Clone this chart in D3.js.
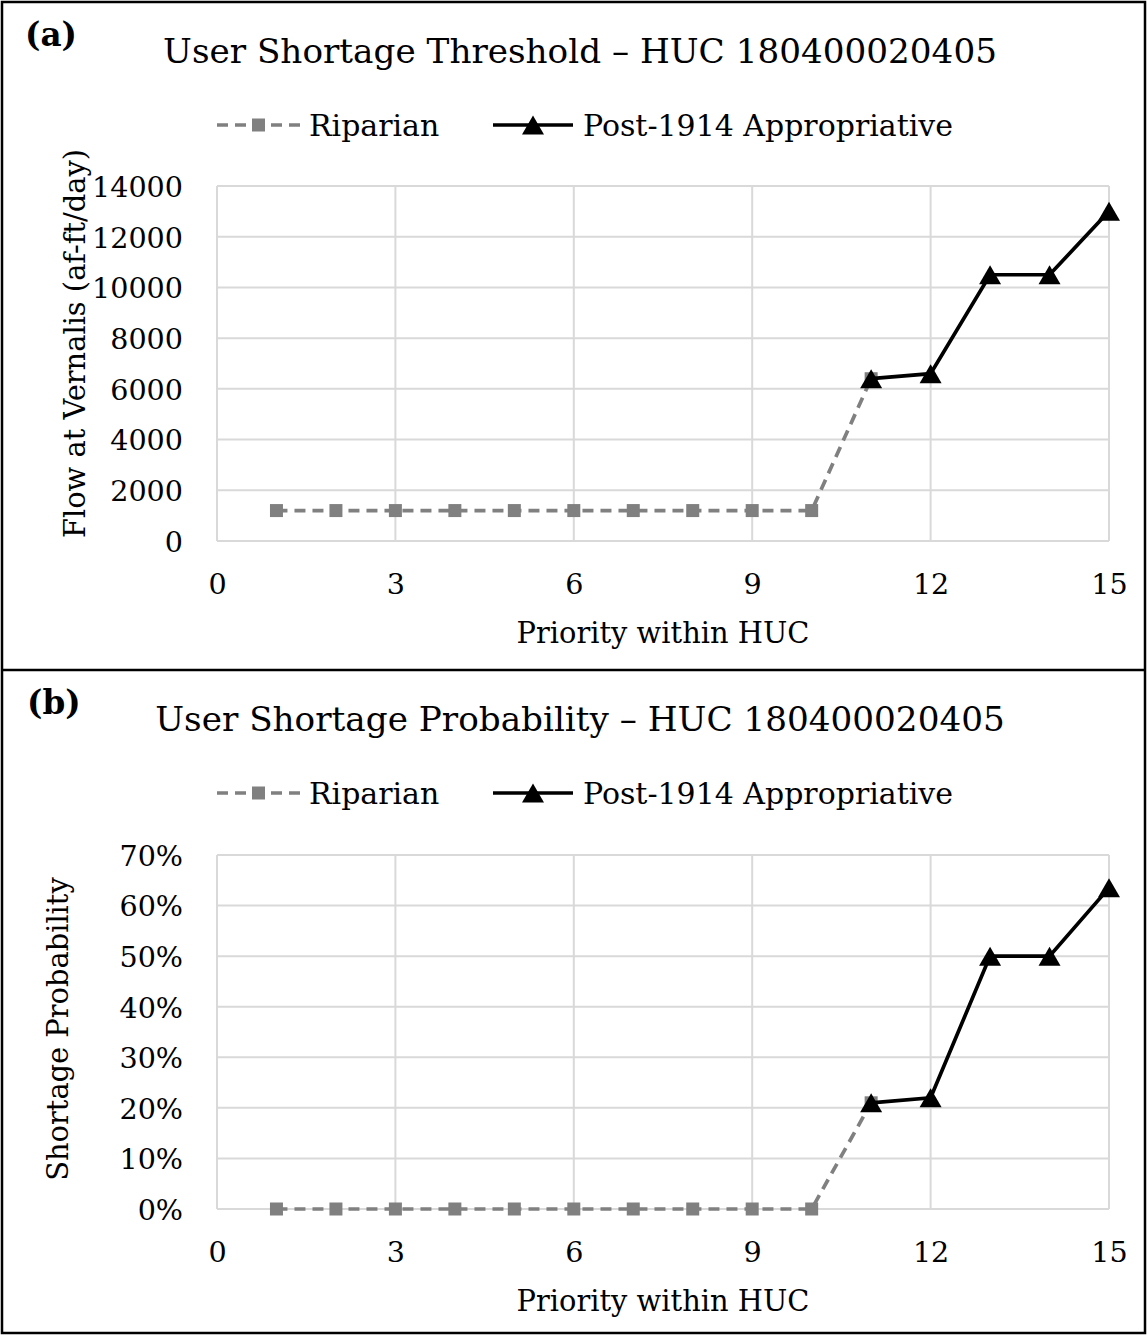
<!DOCTYPE html>
<html><head><meta charset="utf-8">
<script src="https://cdn.jsdelivr.net/npm/d3@7"></script>
<style>
body{margin:0;background:#fff}
text{font-family:"DejaVu Serif",serif;fill:#000}
</style>
</head><body>
<svg id="c" width="1147" height="1335"></svg>
<script>
// ---- data ----
const riparianPriority = [1,2,3,4,5,6,7,8,9,10,11];
const riparianFlow = [1200,1200,1200,1200,1200,1200,1200,1200,1200,1200,6400];
const postPriority = [11,12,13,14,15];
const postFlow = [6400,6600,10500,10500,13000];
const riparianProb = [0,0,0,0,0,0,0,0,0,0,0.21];
const postProb = [0.21,0.22,0.50,0.50,0.635];
const xTicks = [0,3,6,9,12,15];
const flowTicks = [0,2000,4000,6000,8000,10000,12000,14000];
const probTicks = [0,0.1,0.2,0.3,0.4,0.5,0.6,0.7];
const seriesNames = ["Riparian","Post-1914 Appropriative"];
const panelLabels = ["(a)","(b)"];
const titles = ["User Shortage Threshold \u2013 HUC 180400020405","User Shortage Probability \u2013 HUC 180400020405"];
const yTitles = ["Flow at Vernalis (af-ft/day)","Shortage Probability"];
const xTitle = "Priority within HUC";

// ---- drawing ----
const svg = d3.select("#c");
const W = 1147, H = 1335;
const GRID = "#d9d9d9", GRAY = "#808080";
const LW = 3.7;

function sizeFor(str, target, weight){
  const t = svg.append("text").attr("font-size",100).attr("font-weight",weight||"normal").text(str);
  const w = t.node().getComputedTextLength(); t.remove();
  return 100*target/w;
}
const fsTitle = sizeFor(titles[0], 834);
const fsLabel = sizeFor(panelLabels[0], 52, "bold");
const fsLegend = sizeFor(seriesNames[1], 370);
const fsTick = sizeFor("14000", 91);
const fsAxis = sizeFor(xTitle, 293);

const x = d3.scaleLinear().domain([0,15]).range([217,1109]);

const panels = [
  {dy:0, top:186, bottom:541, yDomain:[0,14000], ticks:flowTicks, fmt:d3.format("d"),
   rip:riparianFlow, post:postFlow, title:titles[0], ytitle:yTitles[0], label:panelLabels[0], ytx:85},
  {dy:668, top:855, bottom:1209, yDomain:[0,0.7], ticks:probTicks, fmt:d3.format(".0%"),
   rip:riparianProb, post:postProb, title:titles[1], ytitle:yTitles[1], label:panelLabels[1], ytx:68}
];

function triPath(w,h){ const p=d3.path(); p.moveTo(0,-h/2); p.lineTo(w/2,h/2); p.lineTo(-w/2,h/2); p.closePath(); return p.toString(); }
const TRI = triPath(22,19);

panels.forEach(P=>{
  const g = svg.append("g");
  const y = d3.scaleLinear().domain(P.yDomain).range([P.bottom,P.top]);

  // gridlines
  g.append("g").selectAll("line").data(P.ticks).join("line")
    .attr("x1",x(0)).attr("x2",x(15)).attr("y1",d=>y(d)).attr("y2",d=>y(d))
    .attr("stroke",GRID).attr("stroke-width",2);
  g.append("g").selectAll("line").data(xTicks).join("line")
    .attr("y1",P.top).attr("y2",P.bottom).attr("x1",d=>x(d)).attr("x2",d=>x(d))
    .attr("stroke",GRID).attr("stroke-width",2);

  // y axis labels
  const ya = g.append("g").attr("transform",`translate(${x(0)},0)`)
    .call(d3.axisLeft(y).tickValues(P.ticks).tickFormat(P.fmt).tickSize(0).tickPadding(34));
  ya.select(".domain").remove();
  ya.selectAll("text").attr("font-size",fsTick).attr("font-family","DejaVu Serif").attr("fill","#000").attr("dy","0.36em");

  // x axis labels
  const xa = g.append("g").attr("transform",`translate(0,${P.bottom})`)
    .call(d3.axisBottom(x).tickValues(xTicks).tickFormat(d3.format("d")).tickSize(0).tickPadding(0));
  xa.select(".domain").remove();
  xa.selectAll("text").attr("font-size",fsTick).attr("font-family","DejaVu Serif").attr("fill","#000")
    .attr("dy",null).attr("y",53);

  // series lines
  const line = d3.line().x(d=>x(d[0])).y(d=>y(d[1]));
  const ripData = riparianPriority.map((p,i)=>[p,P.rip[i]]);
  const postData = postPriority.map((p,i)=>[p,P.post[i]]);
  g.append("path").datum(ripData).attr("d",line).attr("fill","none")
    .attr("stroke",GRAY).attr("stroke-width",LW).attr("stroke-dasharray","11,7");
  g.selectAll("rect.m").data(ripData).join("rect").attr("class","m")
    .attr("x",d=>x(d[0])-6.5).attr("y",d=>y(d[1])-6.5).attr("width",13).attr("height",13).attr("fill",GRAY);
  g.append("path").datum(postData).attr("d",line).attr("fill","none")
    .attr("stroke","#000").attr("stroke-width",LW);
  g.selectAll("path.t").data(postData).join("path").attr("class","t")
    .attr("d",TRI).attr("transform",d=>`translate(${x(d[0])},${y(d[1])})`).attr("fill","#000");

  // titles
  g.append("text").attr("x",580).attr("y",63+P.dy).attr("text-anchor","middle")
    .attr("font-size",fsTitle).text(P.title);
  g.append("text").attr("x",25+(P.dy?2:0)).attr("y",46+P.dy).attr("font-weight","bold")
    .attr("font-size",fsLabel).text(P.label);
  g.append("text").attr("x",(x(0)+x(15))/2).attr("y",643+P.dy).attr("text-anchor","middle")
    .attr("font-size",fsAxis).text(xTitle);
  const yc = (P.top+P.bottom)/2 - (P.dy?3:20);
  g.append("text").attr("transform",`translate(${P.ytx},${yc}) rotate(-90)`).attr("text-anchor","middle")
    .attr("font-size",fsAxis).text(P.ytitle);

  // legend
  const ly = 125+P.dy;
  const lg = g.append("g");
  lg.append("line").attr("x1",217).attr("x2",301).attr("y1",ly).attr("y2",ly)
    .attr("stroke",GRAY).attr("stroke-width",LW).attr("stroke-dasharray","11,7");
  lg.append("rect").attr("x",252).attr("y",ly-6.5).attr("width",13).attr("height",13).attr("fill",GRAY);
  lg.append("text").attr("x",309).attr("y",ly+11).attr("font-size",fsLegend).text(seriesNames[0]);
  lg.append("line").attr("x1",493).attr("x2",573).attr("y1",ly).attr("y2",ly)
    .attr("stroke","#000").attr("stroke-width",LW);
  lg.append("path").attr("d",TRI).attr("transform",`translate(533,${ly})`).attr("fill","#000");
  lg.append("text").attr("x",583).attr("y",ly+11).attr("font-size",fsLegend).text(seriesNames[1]);
});

// frame and divider
svg.append("rect").attr("x",2).attr("y",2).attr("width",W-4).attr("height",H-4)
  .attr("fill","none").attr("stroke","#000").attr("stroke-width",2.5);
svg.append("line").attr("x1",2).attr("x2",W-2).attr("y1",670).attr("y2",670)
  .attr("stroke","#000").attr("stroke-width",2.5);
</script>
</body></html>
